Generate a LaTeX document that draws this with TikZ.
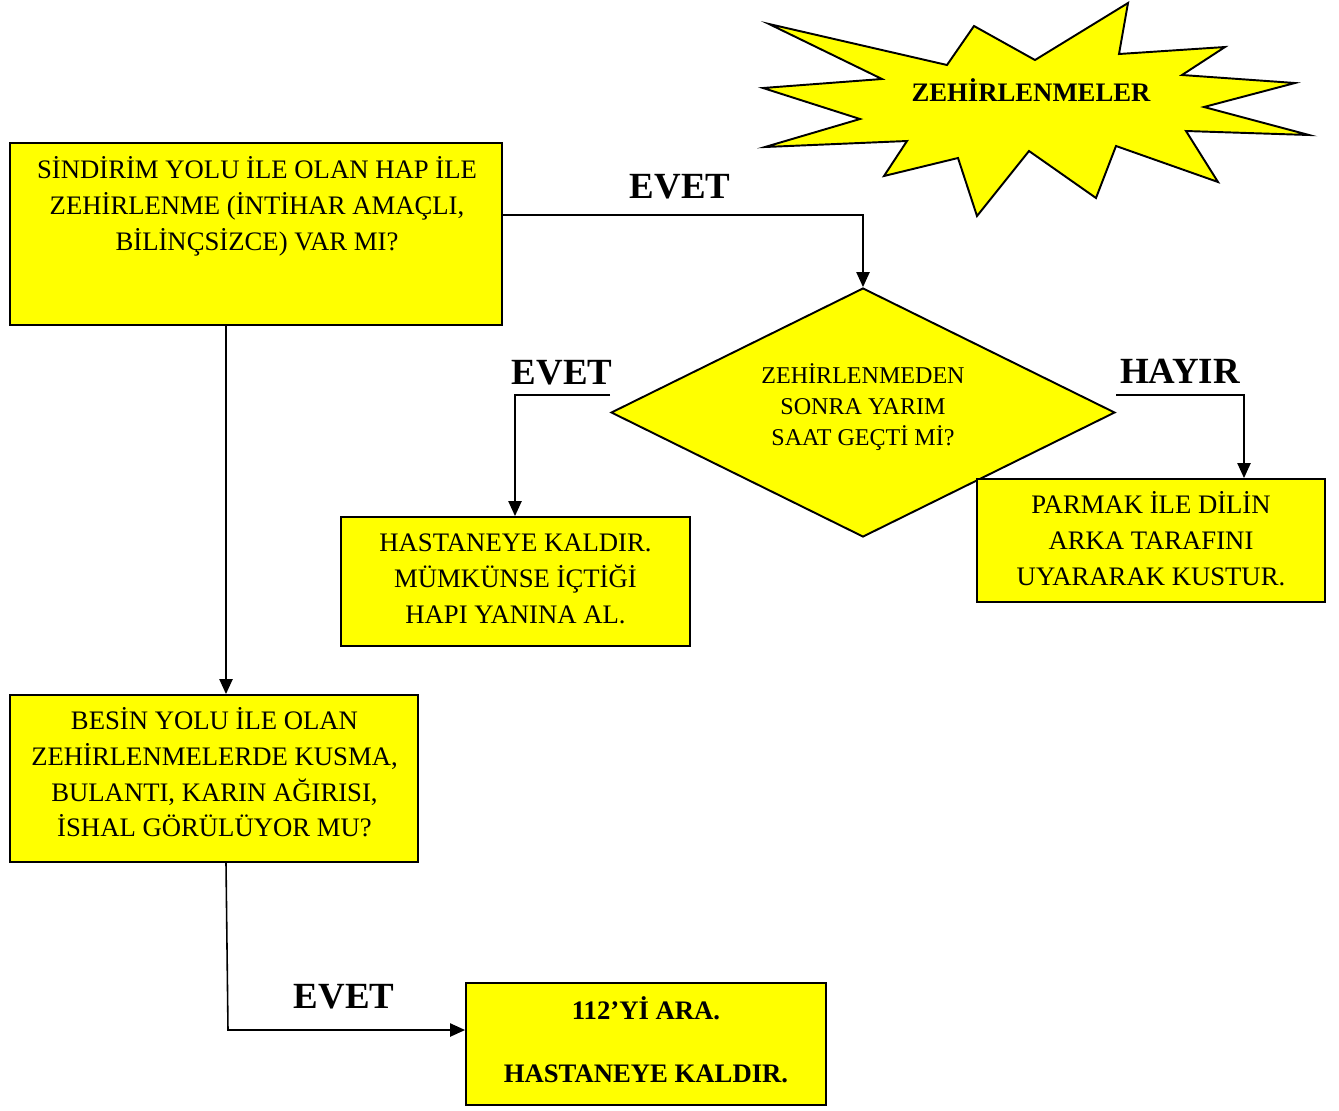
\documentclass[tikz,border=0pt]{standalone}
\usepackage{fontspec}
\setmainfont{Liberation Serif}
\usetikzlibrary{shapes.geometric,arrows.meta}
\definecolor{yel}{RGB}{255,255,0}
\begin{document}
\begin{tikzpicture}[x=0.02cm,y=-0.02cm,
  box/.style={draw=black,line width=1.1pt,fill=yel,inner sep=0pt},
  txt/.style={align=center,inner sep=0pt,font=\fontsize{15.2}{20.4}\selectfont},
  dtxt/.style={align=center,inner sep=0pt,font=\fontsize{13.7}{17.6}\selectfont},
  lbl/.style={inner sep=0pt,anchor=base,font=\fontsize{21}{25}\selectfont\bfseries},
  conn/.style={line width=0.9pt},
  arr/.style={line width=0.9pt,-{Triangle[length=8.5pt,width=7.5pt]}}]
\useasboundingbox (0,0) rectangle (1339,1110);

% star
\draw[fill=yel,line width=1.1pt,line join=miter]
  (769,24) -- (947,65) -- (974,26) -- (1035,60) -- (1128,3) -- (1119,54)
  -- (1225,47) -- (1182,75) -- (1295,83) -- (1204,107) -- (1309,135)
  -- (1186,131) -- (1218,182) -- (1116,146) -- (1096,198) -- (1029,151)
  -- (977,216) -- (958,158) -- (884,176) -- (907,141) -- (765,147)
  -- (860,119) -- (763,88) -- (882,79) -- cycle;
\node[inner sep=0pt,anchor=base,font=\fontsize{15.2}{17}\selectfont\bfseries] (title) at (1031,101) {ZEHİRLENMELER};

% boxes
\node[box,minimum width=9.84cm,minimum height=3.64cm] (b1) at (256,234) {};
\node[txt] (t1) at (257,207) {\strut SİNDİRİM YOLU İLE OLAN HAP İLE\\ZEHİRLENME (İNTİHAR AMAÇLI,\\BİLİNÇSİZCE) VAR MI?\strut};

\node[box,shape=diamond,minimum width=10.08cm,minimum height=4.98cm] (dia) at (863,412.5) {};
\node[dtxt] (tdia) at (863,408) {\strut ZEHİRLENMEDEN\\SONRA YARIM\\SAAT GEÇTİ Mİ?\strut};

\node[box,minimum width=6.98cm,minimum height=2.58cm] (hosp) at (515.5,581.5) {};
\node[txt] (thosp) at (515.5,580.5) {\strut HASTANEYE KALDIR.\\MÜMKÜNSE İÇTİĞİ\\HAPI YANINA AL.\strut};

\node[box,minimum width=6.96cm,minimum height=2.46cm] (parmak) at (1151,540.5) {};
\node[txt] (tparmak) at (1151,542.5) {\strut PARMAK İLE DİLİN\\ARKA TARAFINI\\UYARARAK KUSTUR.\strut};

\node[box,minimum width=8.16cm,minimum height=3.34cm] (besin) at (214,778.5) {};
\node[txt] (tbesin) at (214.5,776) {\strut BESİN YOLU İLE OLAN\\ZEHİRLENMELERDE KUSMA,\\BULANTI, KARIN AĞIRISI,\\İSHAL GÖRÜLÜYOR MU?\strut};

\node[box,minimum width=7.2cm,minimum height=2.44cm] (b112) at (646,1044) {};
\node[txt,font=\fontsize{15.2}{20.4}\selectfont\bfseries] (t112) at (646,1044) {\strut 112’Yİ ARA.\\[15.5pt]HASTANEYE KALDIR.\strut};

% connectors
\coordinate (c1) at (863,215);
\draw[arr] (b1.east |- c1) -- (c1) -- (dia.north);
\node[lbl] (l1) at (680,198) {EVET};

\coordinate (c2s) at (610,395);
\coordinate (c2) at (515,395);
\draw[arr] (c2s) -- (c2) -- (c2 |- hosp.north);
\node[lbl] (l2) at (562,384) {EVET};

\coordinate (c3s) at (1116,395);
\coordinate (c3) at (1244,395);
\draw[arr] (c3s) -- (c3) -- (c3 |- parmak.north);
\node[lbl] (l3) at (1180,383) {HAYIR};

\coordinate (c4) at (226,0);
\draw[arr] (b1.south -| c4) -- (besin.north -| c4);

\coordinate (c5) at (228,1030);
\draw[arr] (besin.south -| c4) -- (c5) -- (c5 -| b112.west);
\node[lbl] (l4) at (344,1008) {EVET};
\end{tikzpicture}
\end{document}
